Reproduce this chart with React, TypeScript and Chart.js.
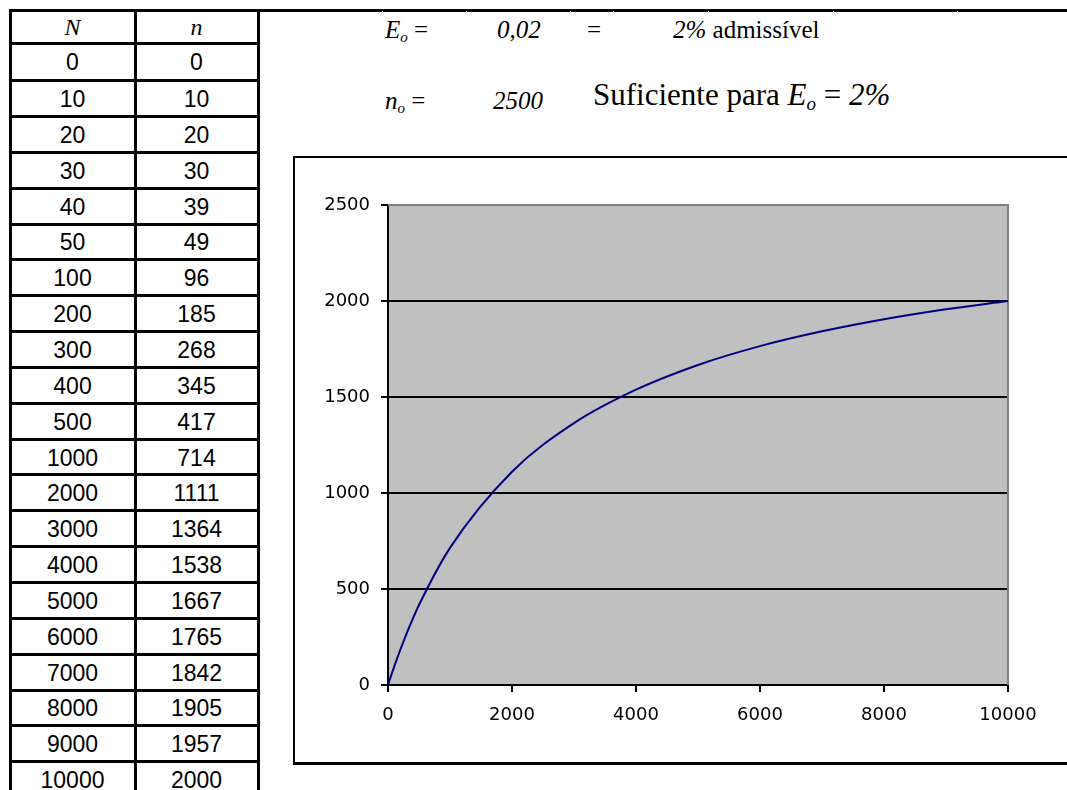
import React, { useEffect, useRef } from "react";
import { Chart, registerables } from "chart.js";

Chart.register(...registerables);

// Population size N and required sample size n (table + chart)
const N_VALUES = [0, 10, 20, 30, 40, 50, 100, 200, 300, 400, 500, 1000, 2000, 3000, 4000, 5000, 6000, 7000, 8000, 9000, 10000];
const N_SAMPLE = [0, 10, 20, 30, 39, 49, 96, 185, 268, 345, 417, 714, 1111, 1364, 1538, 1667, 1765, 1842, 1905, 1957, 2000];
const X_TICKS = [0, 2000, 4000, 6000, 8000, 10000];
const Y_TICKS = [0, 500, 1000, 1500, 2000, 2500];

const TICK_FONT = { family: "'DejaVu Sans', 'Liberation Sans', sans-serif", size: 18 };

const plotFrame = {
  id: "plotFrame",
  beforeDraw(chart: any) {
    const { ctx, chartArea: a } = chart;
    ctx.save();
    ctx.fillStyle = "#C0C0C0";
    ctx.fillRect(a.left, a.top, a.right - a.left, a.bottom - a.top);
    ctx.restore();
  },
  beforeDatasetsDraw(chart: any) {
    const { ctx, chartArea: a } = chart;
    ctx.save();
    ctx.strokeStyle = "#808080";
    ctx.lineWidth = 2;
    ctx.beginPath();
    ctx.moveTo(a.left, a.top);
    ctx.lineTo(a.right, a.top);
    ctx.lineTo(a.right, a.bottom);
    ctx.stroke();
    ctx.restore();
  },
};

function SampleChart() {
  const ref = useRef<HTMLCanvasElement | null>(null);
  useEffect(() => {
    if (!ref.current) return;
    const chart = new Chart(ref.current, {
      type: "line",
      data: {
        datasets: [
          {
            data: N_VALUES.map((x, i) => ({ x, y: N_SAMPLE[i] })),
            borderColor: "#000080",
            borderWidth: 2,
            pointRadius: 0,
            cubicInterpolationMode: "monotone",
            fill: false,
          },
        ],
      },
      options: {
        animation: false,
        responsive: false,
        devicePixelRatio: 1,
        layout: { padding: { top: 47, right: 59, left: 0, bottom: 0 } },
        plugins: { legend: { display: false }, tooltip: { enabled: false } },
        scales: {
          x: {
            type: "linear",
            min: 0,
            max: 10000,
            afterBuildTicks: (s: any) => {
              s.ticks = X_TICKS.map((v) => ({ value: v }));
            },
            afterFit: (s: any) => {
              s.height = 77;
            },
            ticks: {
              font: TICK_FONT,
              color: "#000",
              padding: 13,
              maxRotation: 0,
              autoSkip: false,
              callback: (v: any) => String(v),
            },
            grid: { drawOnChartArea: false, drawTicks: true, tickLength: 7, tickColor: "#000", tickWidth: 2, lineWidth: 2 },
            border: { color: "#000", width: 2 },
          },
          y: {
            type: "linear",
            min: 0,
            max: 2500,
            afterBuildTicks: (s: any) => {
              s.ticks = Y_TICKS.map((v) => ({ value: v }));
            },
            afterFit: (s: any) => {
              s.width = 93;
            },
            ticks: { font: TICK_FONT, color: "#000", padding: 11, callback: (v: any) => String(v) },
            grid: {
              color: (c: any) => (c.tick && c.tick.value === 2500 ? "rgba(0,0,0,0)" : "#000"),
              lineWidth: 2,
              tickLength: 7,
              tickColor: "#000",
              tickWidth: 2,
            },
            border: { color: "#000", width: 2 },
          },
        },
      },
      plugins: [plotFrame],
    } as any);
    return () => chart.destroy();
  }, []);
  return (
    <canvas
      ref={ref}
      width={772}
      height={604}
      style={{ position: "absolute", left: 295, top: 158, width: 772, height: 604 }}
    />
  );
}

const line = (left: number, top: number, width: number, height: number, color = "#000"): React.CSSProperties => ({
  position: "absolute",
  left,
  top,
  width,
  height,
  background: color,
});

export default function App() {
  // table row boundaries
  const rowLines: number[] = [43.3];
  for (let k = 0; k < 20; k++) rowLines.push(80.6 + 35.85 * k);
  const rowTop = (i: number) => (i === 0 ? 10.5 : rowLines[i - 1]);
  const rowBottom = (i: number) => (i < rowLines.length ? rowLines[i] : rowLines[rowLines.length - 1] + 35.85);

  const cellStyle = (left: number, width: number, top: number, bottom: number): React.CSSProperties => ({
    position: "absolute",
    left,
    width,
    top,
    height: bottom - top,
    display: "flex",
    alignItems: "center",
    justifyContent: "center",
    fontFamily: "'Liberation Sans', Arial, sans-serif",
    fontSize: 23,
    color: "#000",
    paddingTop: 2,
    boxSizing: "border-box",
  });

  const serif = "'Liberation Serif', 'Times New Roman', serif";
  const txt = (left: number, top: number, size: number): React.CSSProperties => ({
    position: "absolute",
    left,
    top,
    fontFamily: serif,
    fontSize: size,
    lineHeight: 1,
    whiteSpace: "nowrap",
    color: "#000",
  });

  const nicks = [382, 466, 570, 613, 708, 833, 957];

  return (
    <div style={{ position: "fixed", left: 0, top: 0, width: 1067, height: 790, overflow: "hidden", background: "#fff" }}>
      {/* top rule */}
      <div style={line(8.5, 9, 1060, 3)} />
      {nicks.map((x) => (
        <div key={x} style={line(x, 11, 1, 1, "#fff")} />
      ))}
      {/* table verticals */}
      <div style={line(8.5, 9, 3, 790)} />
      <div style={line(133.5, 9, 3, 790)} />
      <div style={line(256.5, 9, 3, 790)} />
      {rowLines.map((y, i) => (
        <div key={i} style={line(8.5, y - 1.5, 251, 3)} />
      ))}
      {/* header */}
      <div style={{ ...cellStyle(11.5, 122, rowTop(0), rowBottom(0)), fontFamily: serif, fontStyle: "italic", fontSize: 24 }}>N</div>
      <div style={{ ...cellStyle(136.5, 120, rowTop(0), rowBottom(0)), fontFamily: serif, fontStyle: "italic", fontSize: 24 }}>n</div>
      {N_VALUES.map((v, i) => (
        <React.Fragment key={i}>
          <div style={cellStyle(11.5, 122, rowTop(i + 1), rowBottom(i + 1))}>{v}</div>
          <div style={cellStyle(136.5, 120, rowTop(i + 1), rowBottom(i + 1))}>{N_SAMPLE[i]}</div>
        </React.Fragment>
      ))}

      {/* top texts */}
      <div style={txt(385, 17, 25)}>
        <i>E</i>
        <sub style={{ fontSize: 15, fontStyle: "italic", verticalAlign: "-4px" }}>o</sub> =
      </div>
      <div style={{ ...txt(497, 17, 25), fontStyle: "italic" }}>0,02</div>
      <div style={txt(587, 17, 25)}>=</div>
      <div style={txt(673, 17, 25)}>
        <i>2%</i> admissível
      </div>
      <div style={txt(385, 88, 25)}>
        <i>n</i>
        <sub style={{ fontSize: 15, fontStyle: "italic", verticalAlign: "-4px" }}>o</sub> =
      </div>
      <div style={{ ...txt(493, 88, 25), fontStyle: "italic" }}>2500</div>
      <div style={txt(593, 79, 31)}>
        Suficiente para <i>E</i>
        <sub style={{ fontSize: 19, fontStyle: "italic", verticalAlign: "-5px" }}>o</sub> = <i>2%</i>
      </div>

      {/* chart box */}
      <div style={line(293, 156, 774, 2)} />
      <div style={line(293, 156, 2, 609)} />
      <div style={line(293, 762, 774, 3)} />
      <SampleChart />
    </div>
  );
}
